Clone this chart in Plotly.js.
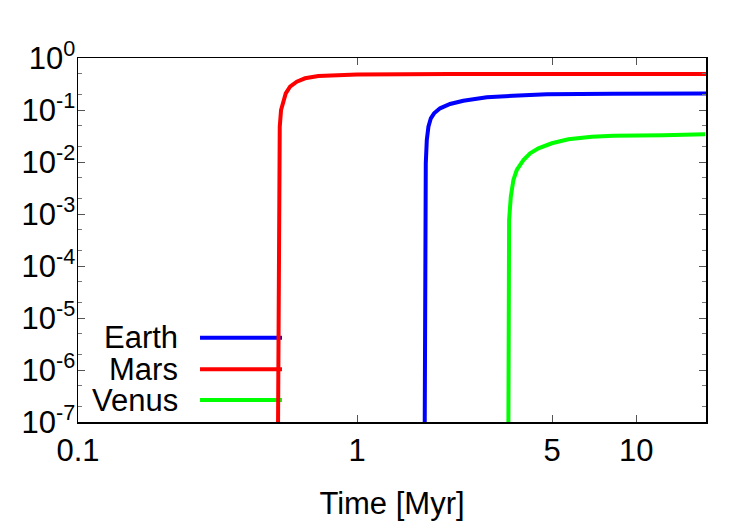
<!DOCTYPE html>
<html>
<head>
<meta charset="utf-8">
<script src="https://cdn.plot.ly/plotly-3.0.1.min.js"></script>
<style>
  html, body { margin: 0; padding: 0; background: #ffffff; }
  #chart { width: 750px; height: 525px; }
</style>
</head>
<body>
<div id="chart"></div>
<script>
// Series names, colours and legend order
const seriesNames = ['Earth', 'Mars', 'Venus'];
const seriesColors = ['#0000ff', '#ff0000', '#00ff00'];

// Time [Myr] and fraction for each body
const earthTime = [1.748, 1.750, 1.763, 1.778, 1.802, 1.838, 1.888, 1.984, 2.154, 2.404, 2.917, 3.624, 4.786, 8.27, 17.8];
const earthY    = [1e-7, 2.03e-4, 0.00944, 0.0265, 0.0478, 0.0692, 0.0864, 0.1078, 0.1304, 0.151, 0.1755, 0.188, 0.2004, 0.206, 0.2076];

const marsTime = [0.5211, 0.5224, 0.5236, 0.5254, 0.5284, 0.5341, 0.5443, 0.5552, 0.5753, 0.6080, 0.6512, 0.7265, 1.0, 2.154, 17.8];
const marsY    = [1e-7, 2.22e-5, 1.86e-3, 0.01093, 0.0477, 0.1, 0.156, 0.209, 0.281, 0.350, 0.407, 0.451, 0.48, 0.49, 0.492];

const venusTime = [3.486, 3.487, 3.506, 3.556, 3.633, 3.736, 3.946, 4.170, 4.465, 4.987, 5.719, 6.937, 8.29, 12.53, 17.68];
const venusY    = [1e-7, 2.22e-5, 7.67e-4, 2.15e-3, 4.51e-3, 7.02e-3, 0.0109, 0.01469, 0.01834, 0.0229, 0.0273, 0.0306, 0.0320, 0.0326, 0.0341];

// Axis ticks
const xTickVals = [0.1, 1, 5, 10];
const xTickText = ['0.1', '1', '5', '10'];
const yExponents = [-7, -6, -5, -4, -3, -2, -1, 0];
const yTickVals = yExponents.map(e => Math.pow(10, e));
const yTickText = yExponents.map(e => '10<sup>' + String(e) + '</sup>');
const yMinorVals = [];
yExponents.slice(0, -1).forEach(e => {
  yMinorVals.push(2 * Math.pow(10, e), 5 * Math.pow(10, e));
});

const seriesData = {
  Earth: [earthTime, earthY],
  Mars: [marsTime, marsY],
  Venus: [venusTime, venusY]
};

// Draw order: Earth, Venus, then Mars on top
const drawOrder = ['Earth', 'Venus', 'Mars'];
const traces = drawOrder.map(name => {
  const i = seriesNames.indexOf(name);
  return {
    x: seriesData[name][0],
    y: seriesData[name][1],
    name: name,
    type: 'scatter',
    mode: 'lines',
    line: { color: seriesColors[i], width: 4 },
    showlegend: false,
    hoverinfo: 'x+y+name'
  };
});

const FONT = '"Liberation Sans", Arial, Helvetica, sans-serif';
const FSIZE = 31;

// Key in the lower-left corner: label on the left, line sample on the right
const keyRowsY = [0.2316, 0.1448, 0.0604];
const annotations = seriesNames.map((name, i) => ({
  xref: 'paper', yref: 'paper',
  x: 0.1624, y: keyRowsY[i],
  xanchor: 'right', yanchor: 'middle',
  text: name, showarrow: false,
  font: { family: FONT, size: FSIZE, color: '#000000' }
}));
const shapes = seriesNames.map((name, i) => ({
  type: 'line', xref: 'paper', yref: 'paper', layer: 'below',
  x0: 0.1943, x1: 0.3248, y0: keyRowsY[i], y1: keyRowsY[i],
  line: { color: seriesColors[i], width: 4 }
}));

const layout = {
  width: 750, height: 525,
  margin: { l: 78, r: 44, t: 58, b: 103, pad: 0 },
  paper_bgcolor: '#ffffff',
  plot_bgcolor: '#ffffff',
  font: { family: FONT, size: FSIZE, color: '#000000' },
  showlegend: false,
  xaxis: {
    type: 'log',
    range: [-1, Math.log10(17.8)],
    tickmode: 'array', tickvals: xTickVals, ticktext: xTickText,
    tickfont: { family: FONT, size: FSIZE },
    ticks: 'inside', ticklen: 7, tickwidth: 1, tickcolor: '#555555',
    showline: true, linecolor: '#000000', linewidth: 1.5, mirror: 'allticks',
    showgrid: false, zeroline: false,
    ticklabelstandoff: 0,
    title: { text: 'Time [Myr]', font: { family: FONT, size: FSIZE }, standoff: 25 }
  },
  yaxis: {
    type: 'log',
    range: [-7, 0],
    tickmode: 'array', tickvals: yTickVals, ticktext: yTickText,
    tickfont: { family: FONT, size: FSIZE },
    ticks: 'inside', ticklen: 7, tickwidth: 1, tickcolor: '#555555',
    minor: { tickmode: 'array', tickvals: yMinorVals, ticks: 'inside', ticklen: 4, tickwidth: 1, tickcolor: '#777777', showgrid: false },
    showline: true, linecolor: '#000000', linewidth: 1.5, mirror: 'allticks',
    showgrid: false, zeroline: false,
    ticklabelstandoff: -5
  },
  annotations: annotations,
  shapes: shapes
};

Plotly.newPlot('chart', traces, layout, { displayModeBar: false, staticPlot: true });
</script>
</body>
</html>
